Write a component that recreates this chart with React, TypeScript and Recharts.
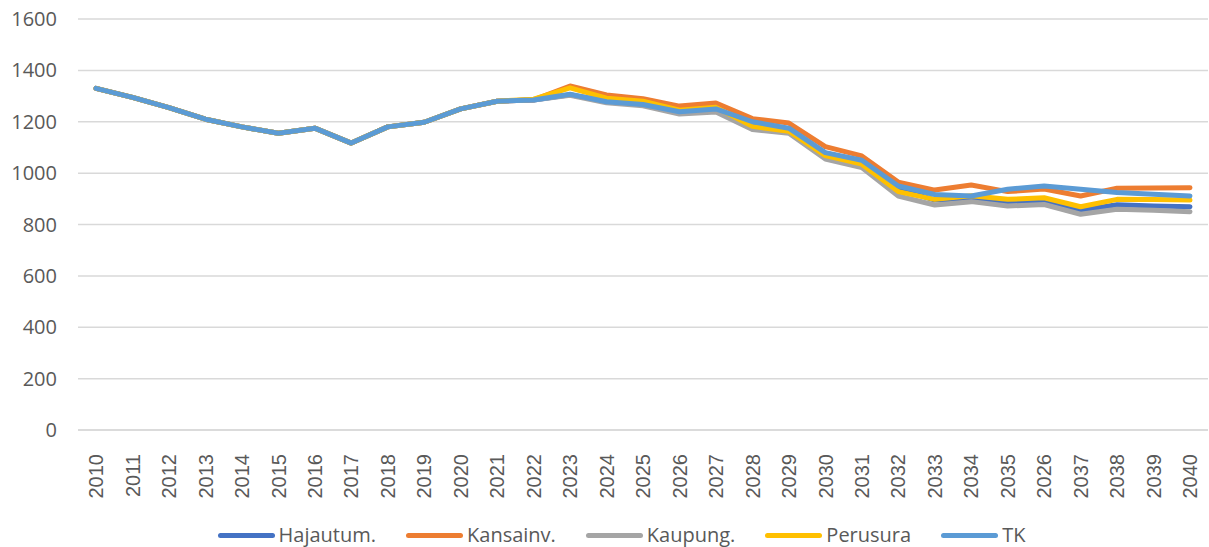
import { LineChart, Line, CartesianGrid, XAxis, YAxis, Legend } from "recharts";

const years = [
  "2010", "2011", "2012", "2013", "2014", "2015", "2016", "2017", "2018", "2019",
  "2020", "2021", "2022", "2023", "2024", "2025", "2026", "2027", "2028", "2029",
  "2030", "2031", "2032", "2033", "2034", "2035", "2026", "2037", "2038", "2039", "2040",
];

// 2010-2021 the scenarios share the same history
const history = [1330, 1295, 1255, 1210, 1180, 1155, 1175, 1117, 1180, 1198, 1250, 1280];

const hajautum = [...history, 1285, 1305, 1279, 1267, 1238, 1249, 1192, 1170, 1078, 1046, 940, 895, 900, 886, 889, 856, 877, 872, 869];
const kansainv = [...history, 1285, 1339, 1304, 1290, 1261, 1273, 1212, 1195, 1103, 1067, 965, 934, 954, 928, 938, 911, 941, 942, 943];
const kaupung = [...history, 1285, 1303, 1274, 1262, 1230, 1238, 1170, 1155, 1055, 1022, 911, 876, 889, 872, 878, 840, 859, 855, 850];
const perusura = [...history, 1288, 1332, 1292, 1280, 1245, 1256, 1182, 1163, 1068, 1035, 928, 898, 912, 898, 904, 869, 898, 897, 895];
const tk = [...history, 1285, 1307, 1278, 1267, 1239, 1250, 1200, 1175, 1080, 1050, 950, 917, 911, 937, 950, 937, 925, 918, 911];

const yTicks = [0, 200, 400, 600, 800, 1000, 1200, 1400, 1600];

const series = [
  { key: "Hajautum.", values: hajautum, color: "#4472C4" },
  { key: "Kansainv.", values: kansainv, color: "#ED7D31" },
  { key: "Kaupung.", values: kaupung, color: "#A5A5A5" },
  { key: "Perusura", values: perusura, color: "#FFC000" },
  { key: "TK", values: tk, color: "#5B9BD5" },
];

const data = years.map((year, i) => {
  const row: Record<string, string | number> = { year };
  series.forEach((s) => (row[s.key] = s.values[i]));
  return row;
});

const textColor = "#595959";

const YearTick = (props: any) => {
  const { x, y, payload } = props;
  return (
    <g transform={`translate(${x},${y})`}>
      <text
        transform="rotate(-90)"
        x={-16}
        y={0}
        dy="0.36em"
        textAnchor="end"
        fill={textColor}
        fontSize={20}
        fontFamily="Liberation Sans, Arial, sans-serif"
      >
        {payload.value}
      </text>
    </g>
  );
};

const LegendContent = () => (
  <div
    style={{
      display: "flex",
      justifyContent: "center",
      paddingTop: 5,
      paddingLeft: 57,
      fontFamily: "Open Sans, sans-serif",
      fontSize: 20,
      lineHeight: "26px",
      color: textColor,
    }}
  >
    {series.map((s) => (
      <div key={s.key} style={{ display: "flex", alignItems: "center", marginRight: 30 }}>
        <div style={{ width: 57, height: 5, borderRadius: 3, background: s.color, marginRight: 4 }} />
        <span>{s.key}</span>
      </div>
    ))}
  </div>
);

var App = () => {
  return (
    <div>
      <style>{"body{margin:0}"}</style>
      <LineChart width={1209} height={547} data={data} margin={{ top: 19, right: 1, left: 8, bottom: 0 }}>
        <CartesianGrid stroke="#D9D9D9" strokeWidth={1.5} vertical={false} />
        <XAxis
          dataKey="year"
          interval={0}
          padding={{ left: 18, right: 18 }}
          axisLine={{ stroke: "#D9D9D9", strokeWidth: 1.5 }}
          tickLine={false}
          tick={<YearTick />}
          height={87}
        />
        <YAxis
          width={70}
          domain={[0, 1600]}
          ticks={yTicks}
          axisLine={false}
          tickLine={false}
          tickSize={0}
          tickMargin={21}
          tick={{ fill: textColor, fontSize: 20, fontFamily: "Open Sans, sans-serif" }}
        />
        <Legend verticalAlign="bottom" content={<LegendContent />} wrapperStyle={{ height: 30 }} />
        {series.map((s) => (
          <Line
            key={s.key}
            type="linear"
            dataKey={s.key}
            stroke={s.color}
            strokeWidth={5}
            strokeLinecap="round"
            strokeLinejoin="round"
            dot={false}
            isAnimationActive={false}
          />
        ))}
      </LineChart>
    </div>
  );
};

export default App;
